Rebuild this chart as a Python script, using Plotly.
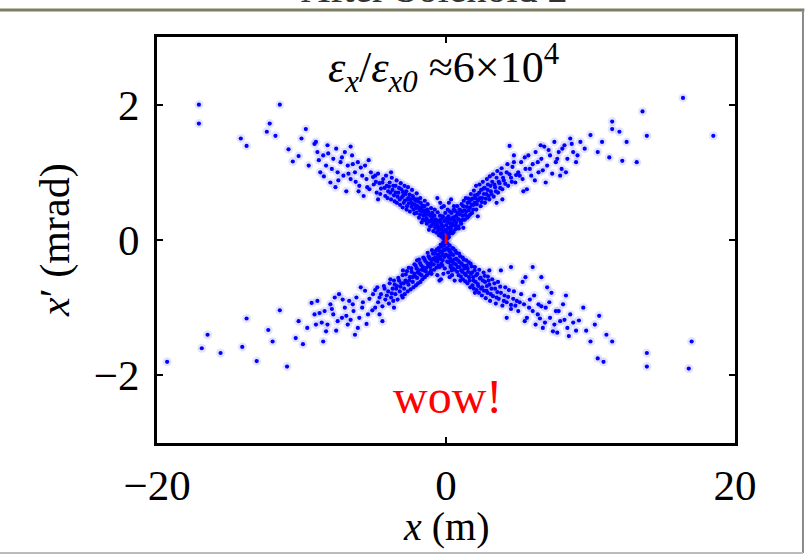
import plotly.graph_objects as go

# ---- data: phase-space particles (x in m, x' in mrad) ----
ul_x = [-0.1,-0.15,-0.2,-0.25,-0.3,-0.35,-0.4,-0.45,-0.5,-0.55,-0.6,-0.7,-0.75,-0.8,-0.9,-0.95,-1.0,-1.1,-1.15,-1.2,
        -1.3,-1.35,-1.45,-1.5,-1.6,-1.65,-1.75,-1.8,-1.9,-2.0,-2.05,-2.15,-2.25,-2.3,-2.4,-2.5,-2.6,-2.7,-2.75,-2.85,
        -2.95,-3.0,-3.1,-3.2,-3.3,-3.4,-3.5,-3.6,-3.7,-3.8,-3.9,-4.0,-4.1,-4.2,-4.35,-4.5,-4.6,-4.8,-4.9,-5.0,
        -0.05,-0.12,-0.18,-0.22,-0.28,-0.33,-0.38,-0.42,-0.48,-0.52,-0.58,-0.63,-0.67,-0.72,-0.78,-0.83,-0.87,-0.93,-0.98,-1.03,
        -1.08,-1.13,-1.18,-1.24,-1.27,-1.33,-1.38,-1.42,-1.47,-1.52,-1.57,-1.63,-1.68,-1.72,-1.78,-1.83,-1.87,-1.93,-1.97,-2.03,
        -2.08,-2.12,-2.18,-2.22,-2.28,-2.35,-2.38,-2.45,-2.52,-2.57,-2.63,-2.68,-2.73,-2.8,-2.87,-2.92,-2.98,-3.05,-3.13,-3.18,
        -3.25,-3.35,-3.42,-3.48,-3.55,-3.65,-3.75,-3.85,-3.95,-4.05,-4.15,-4.25,-4.4,-4.55,-4.7,-4.85,
        -5.2,-5.3,-5.5,-5.6,-5.8,-6.0,-6.1,-6.3,-6.5,-6.6,-6.8,-7.0,-7.1,-7.3,-7.5,-7.6,-7.8,-8.0,-8.2,-8.3,
        -8.5,-8.7,-8.9,-9.0,-6.9,-5.7,
        -5.05,-5.45,-5.9,-6.25,-6.45,-6.75,-7.2,-7.45,-7.9,-8.15,-8.45,-8.8,-5.35,-6.05,-7.65,-4.7,-3.8,-6.6,
        -9.1,-9.7,-10.2,-10.6,-10.9,-11.5,-11.8,-12.2,-12.4,-13.8,-14.2,-17.1,-17.1,-9.5,-10.0]
ul_y = [0.05,0.12,0.2,0.08,0.15,0.25,0.1,0.18,0.28,0.14,0.22,0.3,0.18,0.36,0.25,0.4,0.3,0.2,0.38,0.28,
        0.45,0.32,0.4,0.5,0.3,0.42,0.55,0.38,0.48,0.6,0.4,0.52,0.45,0.65,0.55,0.42,0.62,0.5,0.72,0.58,
        0.66,0.48,0.75,0.6,0.7,0.55,0.8,0.66,0.74,0.6,0.85,0.72,0.8,0.65,0.9,0.76,0.84,0.7,0.95,0.82,
        0.15,0.28,0.02,0.33,0.22,0.05,0.3,0.36,0.07,0.19,0.41,0.27,0.11,0.23,0.45,0.29,0.13,0.34,0.21,0.47,
        0.36,0.27,0.15,0.42,0.53,0.24,0.37,0.29,0.58,0.44,0.36,0.51,0.26,0.47,0.62,0.44,0.33,0.57,0.5,0.69,
        0.47,0.58,0.39,0.61,0.53,0.74,0.49,0.6,0.67,0.54,0.78,0.6,0.45,0.68,0.8,0.55,0.71,0.63,0.84,0.52,
        0.77,0.64,0.88,0.7,0.57,0.8,0.92,0.7,0.79,0.62,0.95,0.77,0.85,0.68,0.98,0.86,
        1.0,0.75,0.9,1.1,0.95,0.8,1.15,1.0,1.25,0.9,1.1,1.3,0.95,1.15,1.0,1.35,1.2,0.85,1.4,1.1,
        1.25,1.0,1.3,1.45,0.72,0.65,
        0.93,0.78,1.07,0.86,1.12,0.98,1.22,0.88,1.05,1.28,0.94,1.18,1.18,0.72,0.78,0.6,1.0,1.38,
        1.42,1.64,1.24,1.16,1.34,2.0,1.54,1.72,1.6,1.39,1.5,2.0,1.72,1.1,1.5]

ur_x = [0.1,0.15,0.2,0.25,0.3,0.35,0.4,0.45,0.5,0.6,0.65,0.7,0.8,0.85,0.9,1.0,1.05,1.15,1.2,1.3,
        1.4,1.5,1.55,1.65,1.75,1.8,1.9,2.0,2.1,2.2,2.3,2.4,2.5,2.6,2.7,2.8,2.9,3.0,3.1,3.2,
        3.3,3.4,3.5,3.6,3.7,3.8,3.9,4.0,4.2,4.3,4.5,4.6,4.8,5.0,2.2,1.2,3.5,0.55,
        0.05,0.11,0.17,0.22,0.27,0.33,0.38,0.43,0.48,0.53,0.57,0.62,0.68,0.73,0.77,0.83,0.88,0.93,0.97,1.02,
        1.08,1.12,1.17,1.23,1.28,1.33,1.37,1.43,1.48,1.53,1.58,1.62,1.68,1.72,1.78,1.83,1.88,1.93,1.98,2.03,
        2.08,2.13,2.18,2.25,2.32,2.37,2.43,2.48,2.55,2.62,2.68,2.75,2.83,2.88,2.95,3.03,3.08,3.15,3.25,3.35,
        3.45,3.55,3.65,3.75,3.85,3.95,4.1,4.25,4.4,4.55,4.7,4.85,
        5.2,5.3,5.5,5.7,5.9,6.0,6.2,6.4,6.6,6.8,7.0,7.2,7.5,7.6,7.8,8.0,8.2,8.4,8.6,8.8,
        9.0,9.3,5.6,6.9,4.4,
        5.1,5.45,5.8,6.15,6.35,6.7,7.1,7.35,7.7,8.05,8.3,8.7,9.1,5.35,6.55,4.7,3.9,7.9,
        9.6,10.0,10.5,11.3,11.5,11.5,12.2,12.5,13.2,13.6,13.9,16.4,18.5,10.8,12.0]
ur_y = [0.08,0.18,0.04,0.25,0.12,0.2,0.3,0.1,0.22,0.34,0.16,0.26,0.4,0.2,0.3,0.44,0.24,0.36,0.5,0.3,
        0.42,0.55,0.35,0.48,0.6,0.4,0.52,0.66,0.45,0.58,0.7,0.5,0.62,0.76,0.55,0.68,0.82,0.6,0.72,0.86,
        0.64,0.78,0.92,0.7,0.84,0.98,0.75,0.88,1.0,0.8,0.92,1.08,0.85,1.0,0.35,0.18,0.55,0.45,
        0.13,0.27,0.35,0.09,0.31,0.16,0.4,0.24,0.33,0.12,0.29,0.43,0.21,0.36,0.5,0.31,0.17,0.45,0.38,0.27,
        0.53,0.42,0.3,0.58,0.44,0.37,0.62,0.49,0.33,0.61,0.44,0.56,0.38,0.68,0.52,0.61,0.45,0.73,0.55,0.62,
        0.8,0.53,0.67,0.6,0.82,0.62,0.74,0.56,0.86,0.68,0.77,0.61,0.9,0.74,0.65,0.94,0.8,0.68,0.97,0.82,
        0.72,1.02,0.86,0.77,1.06,0.92,0.83,1.12,0.97,0.86,1.15,0.96,
        1.15,0.9,1.05,1.25,0.95,1.12,1.3,1.0,1.2,1.38,1.1,1.25,1.45,1.15,1.3,1.05,1.4,1.2,1.5,1.3,
        1.15,1.45,0.75,0.85,1.39,
        0.95,1.22,1.05,0.88,1.15,1.03,1.33,0.98,1.2,1.35,1.0,1.42,1.25,0.72,1.4,1.25,0.6,0.95,
        1.35,1.55,1.3,1.22,1.64,1.75,1.17,1.45,1.15,1.9,1.54,2.1,1.54,1.45,1.6]

ll_x = [-0.1,-0.15,-0.2,-0.25,-0.3,-0.35,-0.4,-0.5,-0.55,-0.6,-0.7,-0.75,-0.85,-0.9,-1.0,-1.1,-1.2,-1.3,-1.4,-1.5,
        -1.6,-1.7,-1.8,-1.9,-2.0,-2.1,-2.2,-2.3,-2.4,-2.5,-2.6,-2.7,-2.8,-2.9,-3.0,-3.1,-3.2,-3.3,-3.4,-3.5,
        -3.6,-3.7,-3.8,-3.9,-4.0,-4.2,-4.3,-4.5,-4.7,-4.9,-1.0,-2.0,-3.0,-0.45,
        -0.05,-0.12,-0.17,-0.23,-0.28,-0.32,-0.37,-0.43,-0.47,-0.53,-0.58,-0.62,-0.67,-0.73,-0.78,-0.82,-0.88,-0.93,-0.97,-1.03,
        -1.07,-1.13,-1.17,-1.23,-1.27,-1.33,-1.37,-1.43,-1.47,-1.53,-1.57,-1.63,-1.67,-1.73,-1.77,-1.83,-1.87,-1.93,-1.97,-2.03,
        -2.08,-2.13,-2.18,-2.25,-2.33,-2.38,-2.45,-2.53,-2.58,-2.65,-2.72,-2.78,-2.85,-2.93,-2.98,-3.05,-3.15,-3.25,-3.35,-3.45,
        -3.55,-3.65,-3.75,-3.85,-3.95,-4.1,-4.25,-4.4,-4.6,-4.75,-4.9,
        -5.1,-5.3,-5.5,-5.6,-5.8,-6.0,-6.2,-6.4,-6.7,-6.8,-7.0,-7.2,-7.4,-7.6,-7.8,-8.0,-8.2,-8.4,-8.6,-8.9,
        -9.1,-9.3,-6.3,-4.6,
        -5.05,-5.4,-5.75,-6.1,-6.45,-6.9,-7.15,-7.5,-7.9,-8.3,-8.75,-9.0,-5.9,-4.4,-3.6,-6.6,-7.7,-8.5,
        -9.9,-10.4,-11.0,-11.5,-12.3,-13.1,-13.8,-14.1,-15.6,-16.5,-16.9,-19.3,-10.2,-12.0,-9.6]
ll_y = [-0.06,-0.15,-0.04,-0.22,-0.1,-0.18,-0.28,-0.12,-0.22,-0.32,-0.16,-0.26,-0.36,-0.2,-0.3,-0.4,-0.24,-0.34,-0.46,-0.28,
        -0.4,-0.52,-0.34,-0.45,-0.56,-0.38,-0.5,-0.62,-0.42,-0.55,-0.66,-0.46,-0.6,-0.72,-0.52,-0.64,-0.76,-0.56,-0.68,-0.8,
        -0.6,-0.72,-0.85,-0.64,-0.76,-0.88,-0.68,-0.8,-0.92,-0.74,-0.5,-0.3,-0.85,-0.4,
        -0.14,-0.25,-0.08,-0.3,-0.17,-0.35,-0.07,-0.25,-0.16,-0.38,-0.27,-0.14,-0.41,-0.3,-0.2,-0.44,-0.28,-0.36,-0.15,-0.45,
        -0.35,-0.27,-0.49,-0.38,-0.19,-0.52,-0.41,-0.31,-0.55,-0.45,-0.26,-0.58,-0.44,-0.37,-0.62,-0.5,-0.29,-0.64,-0.48,-0.42,
        -0.67,-0.54,-0.36,-0.7,-0.55,-0.47,-0.73,-0.6,-0.41,-0.76,-0.62,-0.51,-0.8,-0.64,-0.45,-0.82,-0.69,-0.6,-0.88,-0.72,
        -0.66,-0.9,-0.79,-0.58,-0.94,-0.82,-0.72,-0.98,-0.85,-0.7,-1.0,
        -1.04,-0.87,-1.24,-0.75,-1.0,-1.15,-0.85,-1.05,-0.9,-1.25,-1.0,-1.15,-0.8,-1.34,-1.1,-0.95,-1.25,-1.05,-1.22,-0.9,
        -1.1,-0.93,-1.4,-1.1,
        -0.8,-1.1,-0.92,-1.3,-0.95,-1.12,-0.88,-1.2,-1.02,-1.35,-1.08,-1.25,-0.7,-1.2,-1.0,-1.18,-0.85,-1.5,
        -1.54,-1.45,-1.87,-1.04,-1.33,-1.79,-1.16,-1.58,-1.67,-1.4,-1.6,-1.8,-1.2,-1.5,-1.3]

lr_x = [0.1,0.15,0.2,0.25,0.3,0.35,0.45,0.5,0.55,0.65,0.7,0.8,0.9,0.95,1.05,1.15,1.2,1.3,1.4,1.5,
        1.6,1.7,1.8,1.9,2.0,2.1,2.2,2.3,2.4,2.5,2.6,2.7,2.8,2.9,3.0,3.1,3.2,3.4,3.5,3.6,
        3.8,4.0,4.1,4.3,4.5,4.7,4.9,0.4,1.0,2.0,3.0,
        0.05,0.12,0.17,0.22,0.28,0.32,0.37,0.42,0.48,0.52,0.58,0.62,0.68,0.73,0.77,0.83,0.87,0.93,0.98,1.03,
        1.08,1.13,1.17,1.23,1.28,1.33,1.38,1.43,1.48,1.53,1.58,1.63,1.68,1.73,1.78,1.83,1.88,1.93,1.98,2.05,
        2.12,2.17,2.23,2.28,2.35,2.43,2.48,2.55,2.63,2.68,2.75,2.83,2.88,2.95,3.05,3.15,3.25,3.35,3.45,3.55,
        3.65,3.75,3.9,4.05,4.2,4.35,4.5,4.65,4.8,
        5.0,5.2,5.4,5.6,5.8,6.0,6.2,6.4,6.5,6.7,6.9,7.0,7.2,7.4,7.6,7.7,7.9,8.1,8.3,8.4,
        8.6,4.5,6.0,5.5,
        5.1,5.45,5.75,6.1,6.35,6.6,6.85,7.15,7.5,7.8,8.2,8.5,8.8,5.3,6.6,4.2,7.3,3.8,
        9.0,9.2,9.7,10.0,10.6,10.9,11.5,13.9,13.9,17.0,16.8,9.5,10.3,11.1,10.5]
lr_y = [-0.05,-0.14,-0.25,-0.08,-0.18,-0.3,-0.12,-0.22,-0.35,-0.16,-0.28,-0.4,-0.2,-0.33,-0.45,-0.26,-0.38,-0.5,-0.3,-0.42,
        -0.55,-0.35,-0.48,-0.6,-0.4,-0.52,-0.65,-0.44,-0.56,-0.7,-0.48,-0.62,-0.75,-0.54,-0.66,-0.8,-0.58,-0.72,-0.85,-0.62,
        -0.78,-0.9,-0.7,-0.84,-0.96,-0.76,-0.9,-0.45,-0.6,-0.78,-0.45,
        -0.12,-0.23,-0.33,-0.15,-0.27,-0.38,-0.21,-0.32,-0.42,-0.13,-0.29,-0.44,-0.36,-0.19,-0.47,-0.3,-0.52,-0.4,-0.24,-0.54,
        -0.35,-0.47,-0.58,-0.29,-0.42,-0.61,-0.52,-0.38,-0.64,-0.47,-0.33,-0.6,-0.7,-0.5,-0.39,-0.67,-0.55,-0.72,-0.45,-0.62,
        -0.74,-0.5,-0.68,-0.78,-0.57,-0.72,-0.82,-0.6,-0.75,-0.53,-0.86,-0.68,-0.78,-0.6,-0.9,-0.72,-0.83,-0.64,-0.94,-0.77,
        -0.87,-0.69,-0.97,-0.82,-0.92,-0.74,-1.02,-0.87,-0.97,
        -1.05,-0.8,-0.95,-1.15,-0.88,-1.05,-1.25,-0.95,-1.16,-1.3,-1.0,-0.7,-1.15,-1.35,-1.05,-1.37,-1.2,-0.95,-0.82,-1.3,
        -1.1,-0.4,-0.4,-0.55,
        -0.92,-1.2,-1.0,-0.82,-1.1,-0.98,-1.22,-0.92,-1.25,-1.05,-1.18,-1.42,-1.22,-0.62,-0.55,-1.15,-0.78,-0.45,
        -1.34,-1.19,-1.34,-1.5,-1.12,-1.8,-1.5,-1.67,-1.87,-1.5,-1.9,-1.0,-1.25,-1.4,-1.75]

# particles in the narrow waist of the X, near the origin
waist_x = [0.05,-0.05,0.12,-0.15,0.2,-0.22,0.28,-0.3,0.35,-0.4,0.08,-0.08,0.15,-0.18,0.25,-0.25,0.32,-0.35,0.42,-0.45,
           0.55,-0.6,0.6,-0.6,0.02,-0.02,0.1,-0.1]
waist_y = [0.32,0.4,0.45,0.5,0.55,0.35,0.42,0.48,0.6,0.55,-0.32,-0.42,-0.48,-0.5,-0.55,-0.38,-0.4,-0.58,-0.52,-0.6,
           0.5,0.62,-0.6,-0.52,0.22,-0.22,0.02,-0.02]

core_x = [0.0, 0.0]
core_y = [-0.06, 0.08]

x_ticks = [-20, 0, 20]
x_ticktext = ["\u221220", "0", "20"]
y_ticks = [-2, 0, 2]
y_ticktext = ["\u22122", "0", "2"]

all_x = ul_x + ur_x + ll_x + lr_x + waist_x
all_y = ul_y + ur_y + ll_y + lr_y + waist_y

SERIF = "Liberation Serif, Times New Roman, serif"

fig = go.Figure()
# soft halo around each particle
fig.add_trace(go.Scatter(x=all_x, y=all_y, mode="markers",
                         marker=dict(size=9, color="rgba(60,60,255,0.14)", line=dict(width=0)),
                         hoverinfo="skip", showlegend=False))
fig.add_trace(go.Scatter(x=all_x, y=all_y, mode="markers",
                         marker=dict(size=4.2, color="#0000ff", line=dict(width=0)),
                         showlegend=False))
fig.add_trace(go.Scatter(x=core_x, y=core_y, mode="lines",
                         line=dict(color="red", width=2.5), showlegend=False))

axis_common = dict(showgrid=False, zeroline=False, showline=True, linecolor="black", linewidth=3,
                   mirror="ticks", ticks="inside", ticklen=6, tickwidth=2, tickcolor="black",
                   tickfont=dict(family=SERIF, size=43, color="black"))

fig.update_xaxes(range=[-20, 20], tickvals=x_ticks, ticktext=x_ticktext,
                 ticklabelstandoff=2, **axis_common)
fig.update_yaxes(range=[-3, 3], tickvals=y_ticks, ticktext=y_ticktext,
                 ticklabelstandoff=6, **axis_common)

# axis titles
fig.add_annotation(x=0.5, y=-0.205, xref="paper", yref="paper", showarrow=False,
                   xanchor="center", yanchor="middle",
                   text="<i>x</i> (m)", font=dict(family=SERIF, size=40, color="black"))
fig.add_annotation(x=-0.1765, y=0.5, xref="paper", yref="paper", showarrow=False,
                   xanchor="center", yanchor="middle", textangle=-90,
                   text="<i>x</i>\u2032 (mrad)", font=dict(family=SERIF, size=42, color="black"))

fig.add_annotation(x=-0.2, y=2.54, xref="x", yref="y", showarrow=False,
                   text="<i>\u03b5<sub>x</sub></i>/<i>\u03b5<sub>x0</sub></i> \u22486\u00d710<sup>4</sup>",
                   font=dict(family=SERIF, size=44, color="black"))
fig.add_annotation(x=0.1, y=-2.32, xref="x", yref="y", showarrow=False,
                   text="wow!", font=dict(family=SERIF, size=48, color="red"))
# slide title, mostly cut off by the top edge
fig.add_annotation(x=0.48, y=1.058, xref="paper", yref="paper", xanchor="center", yanchor="bottom",
                   showarrow=False, text="After Solenoid 2",
                   font=dict(family=SERIF, size=40, color="#333333"))

# slide frame lines
fig.add_shape(type="line", xref="paper", yref="paper", x0=-0.28, x1=1.12, y0=1.0665, y1=1.0665,
              line=dict(color="#7d7d62", width=3))
fig.add_shape(type="line", xref="paper", yref="paper", x0=1.1176, x1=1.1176, y0=1.0665, y1=-0.271,
              line=dict(color="#8a8a8a", width=2))
fig.add_shape(type="line", xref="paper", yref="paper", x0=-0.28, x1=1.1176, y0=-0.271, y1=-0.271,
              line=dict(color="#bbbbbb", width=2))

fig.update_layout(width=805, height=560, margin=dict(l=157, r=70, t=37, b=117),
                  paper_bgcolor="white", plot_bgcolor="white", showlegend=False)

fig.write_html("out.html")
